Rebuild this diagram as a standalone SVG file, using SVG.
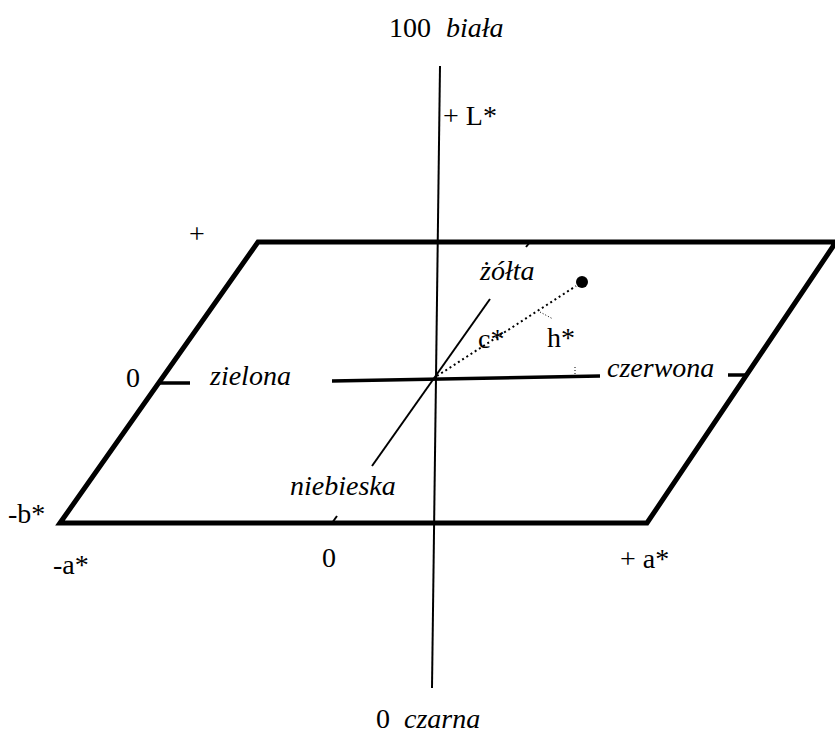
<svg xmlns="http://www.w3.org/2000/svg" width="835" height="738" viewBox="0 0 835 738">
<rect width="835" height="738" fill="#fff"/>
<g id="plane">
<polygon points="60,523 258,242 836,242 647,523" fill="none" stroke="#000" stroke-width="5" stroke-linejoin="miter"/>
</g>
<g id="connectors" stroke="#000" fill="none">
<line x1="440" y1="66" x2="432" y2="688" stroke-width="2"/>
<line x1="332" y1="381" x2="600" y2="376" stroke-width="3.5"/>
<line x1="159" y1="383" x2="190" y2="383" stroke-width="3.5"/>
<line x1="728" y1="375" x2="747" y2="375" stroke-width="3.5"/>
<line x1="372" y1="466" x2="490" y2="299" stroke-width="2"/>
<line x1="526" y1="247" x2="530" y2="242" stroke-width="2"/>
<line x1="332" y1="523" x2="337" y2="516" stroke-width="2"/>
<line x1="437" y1="376" x2="576" y2="286" stroke-width="2" stroke-dasharray="2,3"/>
<line x1="540" y1="312" x2="553" y2="319" stroke-width="1" stroke-dasharray="1,2"/>
<line x1="575" y1="367" x2="575" y2="374" stroke-width="1" stroke-dasharray="1,2"/>
</g>
<g id="point"><circle cx="582" cy="282" r="6" fill="#000"/></g>
<g id="labels">
<text x="389" y="37" font-family="Liberation Serif" font-size="28">100</text>
<text x="443" y="125" font-family="Liberation Serif" font-size="28">+ L*</text>
<text x="189" y="243" font-family="Liberation Serif" font-size="28">+</text>
<text x="126" y="387" font-family="Liberation Serif" font-size="28">0</text>
<text x="478" y="348" font-family="Liberation Serif" font-size="28">c*</text>
<text x="547" y="347" font-family="Liberation Serif" font-size="28">h*</text>
<text x="8" y="523" font-family="Liberation Serif" font-size="28">-b*</text>
<text x="53" y="574" font-family="Liberation Serif" font-size="28">-a*</text>
<text x="322" y="567" font-family="Liberation Serif" font-size="28">0</text>
<text x="620" y="568" font-family="Liberation Serif" font-size="28">+ a*</text>
<text x="376" y="728" font-family="Liberation Serif" font-size="28">0</text>
<text x="446" y="37" font-family="Liberation Serif" font-size="28" font-style="italic">biała</text>
<text x="210" y="385" font-family="Liberation Serif" font-size="28" font-style="italic">zielona</text>
<text x="480" y="280" font-family="Liberation Serif" font-size="28" font-style="italic">żółta</text>
<text x="607" y="377" font-family="Liberation Serif" font-size="28" font-style="italic">czerwona</text>
<text x="290" y="495" font-family="Liberation Serif" font-size="28" font-style="italic">niebieska</text>
<text x="404" y="728" font-family="Liberation Serif" font-size="28" font-style="italic">czarna</text>
</g>
</svg>
